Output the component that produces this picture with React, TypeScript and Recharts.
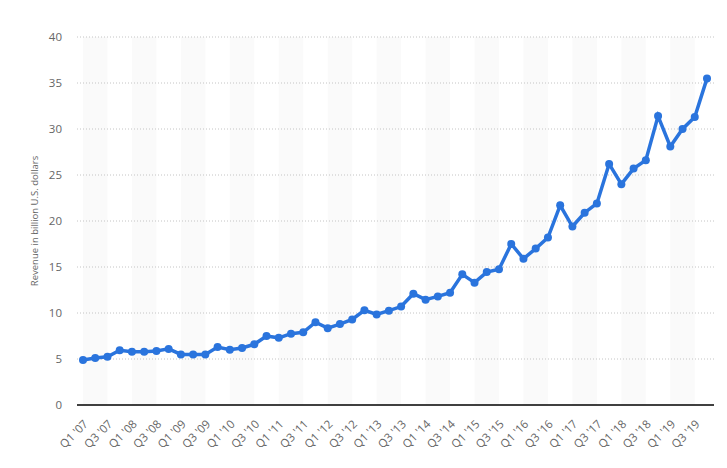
import React from "react";
import { LineChart, Line, XAxis, YAxis, ReferenceArea, ReferenceLine, Label } from "recharts";

// Quarterly revenue, billion U.S. dollars
const years = ["07", "08", "09", "10", "11", "12", "13", "14", "15", "16", "17", "18", "19"];
const quarters = ["Q1", "Q2", "Q3", "Q4"];

const revenue = [
  4.9, 5.1, 5.25, 5.95,
  5.8, 5.8, 5.87, 6.1,
  5.5, 5.5, 5.5, 6.3,
  6.0, 6.2, 6.6, 7.5,
  7.3, 7.75, 7.9, 9.0,
  8.35, 8.8, 9.3, 10.3,
  9.85, 10.25, 10.7, 12.1,
  11.45, 11.8, 12.2, 14.2,
  13.3, 14.45, 14.75, 17.5,
  15.9, 17.0, 18.2, 21.7,
  19.4, 20.9, 21.9, 26.2,
  24.0, 25.7, 26.6, 31.4,
  28.1, 30.0, 31.3, 35.5,
];

const yTicks = [0, 5, 10, 15, 20, 25, 30, 35, 40];

const labels = years.flatMap(y => quarters.map(q => `${q} '${y}`));
const data = labels.map((label, i) => ({ label, revenue: revenue[i] }));

const LINE = "#2a74dd";
const FONT = "'Open Sans', 'DejaVu Sans', sans-serif";

export default function App() {
  return (
    <div style={{ position: "fixed", left: 0, top: 0, width: 727, height: 468, background: "#fff" }}>
      <LineChart
        width={727}
        height={468}
        data={data}
        margin={{ top: 37, right: 13, bottom: 0, left: 0 }}
        style={{ fontFamily: FONT }}
      >
        {years.map(y => (
          <ReferenceArea
            key={y}
            x1={`Q1 '${y}`}
            x2={`Q3 '${y}`}
            y1={0}
            y2={40}
            fill="#fafafa"
            fillOpacity={1}
            stroke="none"
          />
        ))}
        {yTicks.filter(t => t > 0).map(t => (
          <ReferenceLine key={t} y={t} stroke="#c4c4c4" strokeDasharray="1 2" />
        ))}
        <XAxis
          dataKey="label"
          interval={1}
          padding={{ left: 6, right: 7 }}
          height={63}
          tickLine={false}
          axisLine={{ stroke: "#000", strokeWidth: 1.5 }}
          tick={{ fill: "#666", fontSize: 11.5, angle: -45, textAnchor: "end" }}
          tickMargin={8}
        />
        <YAxis
          domain={[0, 40]}
          ticks={yTicks}
          width={77}
          tickLine={false}
          axisLine={false}
          tickSize={0}
          tickMargin={15}
          tick={{ fill: "#666", fontSize: 11.5 }}
        >
          <Label
            value="Revenue in billion U.S. dollars"
            angle={-90}
            position="insideLeft"
            offset={35}
            style={{ fill: "#666", fontSize: 9.5, textAnchor: "middle" }}
          />
        </YAxis>
        <Line
          type="linear"
          dataKey="revenue"
          stroke={LINE}
          strokeWidth={3.5}
          dot={{ r: 4, fill: LINE, stroke: LINE, strokeWidth: 0 }}
          activeDot={false}
          isAnimationActive={false}
        />
      </LineChart>
    </div>
  );
}
